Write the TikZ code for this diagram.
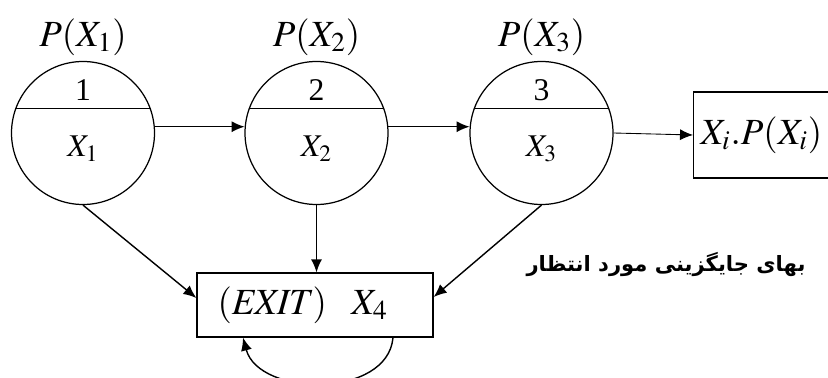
\documentclass[tikz,border=0pt]{standalone}
\usepackage{mathptmx}
\usepackage{fontspec}
\setmainfont{Liberation Serif}
\newfontfamily\persianfont[Script=Arabic]{DejaVu Sans}
\TeXXeTstate=1
\usetikzlibrary{arrows.meta}
\tikzset{
  state/.style={draw,circle,minimum size=2.86cm,inner sep=0pt,line width=0.7pt},
  box/.style={draw,rectangle,line width=0.7pt,align=left},
  link/.style={line width=0.8pt,-{Latex[length=2.6mm,width=2.2mm]}},
  big/.style={font=\fontsize{21}{24}\selectfont},
  mid/.style={font=\fontsize{18}{21}\selectfont}
}
\begin{document}
\begin{tikzpicture}
\clip (0,0) rectangle (16.56,7.56);

\node[state] (c1) at (1.66,4.90) {};
\node[state] (c2) at (6.33,4.90) {};
\node[state] (c3) at (10.83,4.90) {};

\draw[line width=0.7pt] (c1.160)--(c1.20);
\draw[line width=0.7pt] (c2.160)--(c2.20);
\draw[line width=0.7pt] (c3.160)--(c3.20);

\node[big] (p1) at (1.66,6.82) {\(P(X_1)\)};
\node[big] (p2) at (6.33,6.82) {\(P(X_2)\)};
\node[big] (p3) at (10.83,6.82) {\(P(X_3)\)};

\node[mid] (n1) at (1.66,5.76) {1};
\node[mid] (n2) at (6.33,5.76) {2};
\node[mid] (n3) at (10.83,5.76) {3};

\node[mid] (x1) at (1.66,4.58) {\(X_1\)};
\node[mid] (x2) at (6.33,4.58) {\(X_2\)};
\node[mid] (x3) at (10.83,4.58) {\(X_3\)};

\node[box,big,anchor=west,text width=3cm,minimum height=1.72cm,inner xsep=0.14cm] (res) at (13.86,4.86) {\(X_i.P(X_i)\)};
\node[box,font=\fontsize{21}{24}\selectfont,text width=3.9cm,minimum height=1.28cm,inner xsep=0.41cm] (exit) at (6.30,1.46) {\((\mathit{EXIT})\ \ X_4\)};

\draw[link] (c1.5)--(c2.175);
\draw[link] (c2.5)--(c3.175);
\draw[link,line width=0.5pt] (c3.east)--(res.west);

\draw[link] (c1.south)--([yshift=0.14cm]exit.west);
\draw[link] (c2.south)--(c2.south |- exit.north);
\draw[link] (c3.south)--([yshift=0.16cm]exit.east);

\draw[link] ([xshift=1.56cm]exit.south) to[out=-95,in=-75,looseness=1.05] ([xshift=-1.44cm]exit.south);

\node[font=\fontsize{12}{15}\selectfont] (cost) at (13.32,2.28) {\persianfont\bfseries\beginR بهای جایگزینی مورد انتظار\endR};
\end{tikzpicture}
\end{document}
